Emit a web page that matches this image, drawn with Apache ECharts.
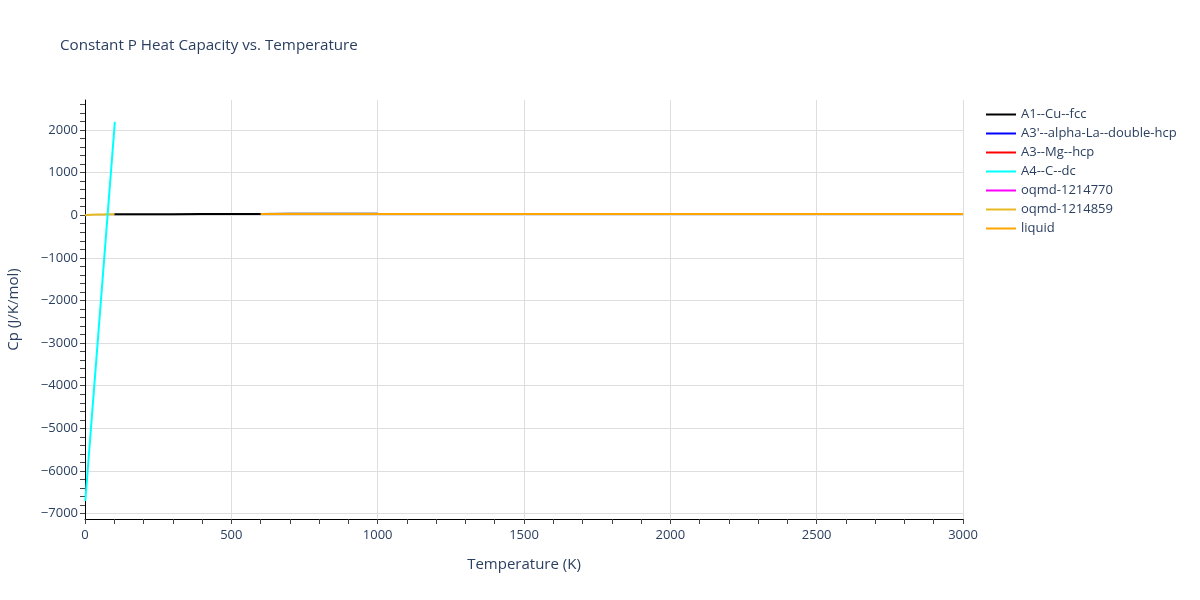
<!DOCTYPE html>
<html>
<head>
<meta charset="utf-8">
<script src="https://cdn.jsdelivr.net/npm/echarts@6/dist/echarts.min.js"></script>
<style>html,body{margin:0;padding:0;background:#fff}#c{width:1200px;height:600px}</style>
</head>
<body>
<div id="c"></div>
<script>
// ---- data ----
const seriesNames = ["A1--Cu--fcc", "A3'--alpha-La--double-hcp", "A3--Mg--hcp", "A4--C--dc", "oqmd-1214770", "oqmd-1214859", "liquid"];
const seriesColors = ["#000000", "#0000ff", "#ff0000", "#00ffff", "#ff00ff", "#e8b820", "#ffa500"];

const cuT  = [100, 200, 300, 400, 500, 600, 700, 800, 900, 1000];
const cuCp = [20, 23, 25, 26, 27, 29, 32, 34, 35, 36];

const laT = [];  const laCp = [];
const mgT = [];  const mgCp = [];

const cT  = [1, 20, 40, 60, 80, 102];
const cCp = [-6700, -5030, -3270, -1510, 250, 2190];

const o770T = []; const o770Cp = [];

const o859T  = [0, 20, 40, 60, 80, 100];
const o859Cp = [2, 8, 14, 18, 21, 23];

const liqT  = [600, 1000, 1500, 2000, 2500, 3000];
const liqCp = [30, 30, 30, 30, 30, 30];

const xTicks = [0, 500, 1000, 1500, 2000, 2500, 3000];
const yMajorTicks = [-7000, -6000, -5000, -4000, -3000, -2000, -1000, 0, 1000, 2000];
const yMinorTicks = [-7000, -6800, -6600, -6400, -6200, -6000, -5800, -5600, -5400, -5200,
  -5000, -4800, -4600, -4400, -4200, -4000, -3800, -3600, -3400, -3200,
  -3000, -2800, -2600, -2400, -2200, -2000, -1800, -1600, -1400, -1200,
  -1000, -800, -600, -400, -200, 0, 200, 400, 600, 800,
  1000, 1200, 1400, 1600, 1800, 2000, 2200, 2400, 2600];
const yMin = -7127, yMax = 2703;

// ---- chart ----
const pairs = (xs, ys) => xs.map((x, i) => [x, ys[i]]);
const allData = [pairs(cuT, cuCp), pairs(laT, laCp), pairs(mgT, mgCp), pairs(cT, cCp),
                 pairs(o770T, o770Cp), pairs(o859T, o859Cp), pairs(liqT, liqCp)];
const font = '"Open Sans", "Liberation Sans", Arial, sans-serif';
const txt = '#2a3f5f';
const fmt = v => (v < 0 ? '\u2212' + String(-v) : String(v));

const chart = echarts.init(document.getElementById('c'), null, {renderer: 'canvas'});
chart.setOption({
  backgroundColor: '#fff',
  animation: false,
  title: {
    text: 'Constant P Heat Capacity vs. Temperature',
    left: 60, top: 38, padding: 0,
    textStyle: {fontFamily: font, fontSize: 15.2, fontWeight: 'normal', color: txt}
  },
  legend: {
    orient: 'vertical', left: 986, top: 108, padding: 0,
    icon: 'rect', itemWidth: 30, itemHeight: 2, itemGap: 6,
    textStyle: {fontFamily: font, fontSize: 13, color: txt, padding: [0, 0, 0, 0]},
    data: seriesNames
  },
  grid: {left: 85, right: 237, top: 100, bottom: 81, containLabel: false, outerBoundsMode: 'none'},
  xAxis: {
    type: 'value', min: 0, max: 3000, interval: 500,
    name: 'Temperature (K)', nameLocation: 'middle', nameGap: 38,
    nameTextStyle: {fontFamily: font, fontSize: 15, color: txt},
    axisLine: {show: true, onZero: false, lineStyle: {color: '#000', width: 1}},
    axisTick: {show: true, length: 5, lineStyle: {color: '#444'}},
    minorTick: {show: true, splitNumber: 5, length: 5, lineStyle: {color: '#444'}},
    axisLabel: {fontFamily: font, fontSize: 13, color: txt, margin: 10,
      customValues: xTicks, formatter: fmt},
    splitLine: {show: true, lineStyle: {color: '#dedede', width: 1}}
  },
  yAxis: [{
    type: 'value', min: yMin, max: yMax, position: 'left',
    axisLine: {show: true, onZero: false, lineStyle: {color: '#000', width: 1}},
    axisTick: {show: true, length: 5, lineStyle: {color: '#444'}, customValues: yMinorTicks},
    axisLabel: {show: false},
    splitLine: {show: false}
  }, {
    type: 'value', min: yMin, max: yMax, position: 'left',
    name: 'Cp (J/K/mol)', nameLocation: 'middle', nameGap: 64,
    nameTextStyle: {fontFamily: font, fontSize: 15, color: txt},
    axisLine: {show: false},
    axisTick: {show: false, customValues: yMajorTicks},
    axisLabel: {fontFamily: font, fontSize: 13, color: txt, margin: 7,
      customValues: yMajorTicks, formatter: fmt},
    splitLine: {show: true, lineStyle: {color: '#dedede', width: 1}}
  }],
  series: seriesNames.map((n, i) => ({
    name: n, type: 'line', data: allData[i], yAxisIndex: 0,
    symbol: 'none', showSymbol: false,
    z: n === 'A4--C--dc' ? 4 : 2,
    lineStyle: {color: seriesColors[i], width: 2},
    itemStyle: {color: seriesColors[i]}
  }))
});
</script>
</body>
</html>
